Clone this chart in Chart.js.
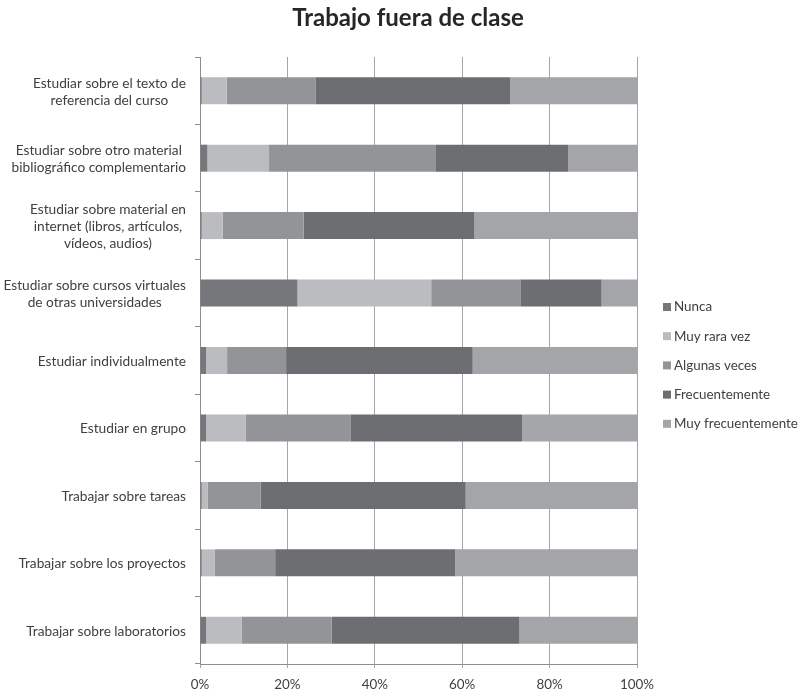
<!DOCTYPE html>
<html>
<head>
<meta charset="utf-8">
<title>Trabajo fuera de clase</title>
<script src="https://cdn.jsdelivr.net/npm/chart.js@4"></script>
<style>
  html, body { margin: 0; padding: 0; background: #fff; }
  #wrap { width: 802px; height: 693px; position: relative; }
</style>
</head>
<body>
<div id="wrap"><canvas id="workChart"></canvas></div>
<script>
// Activity categories (top to bottom)
const activities = [
    ['Estudiar sobre el texto de', 'referencia del curso'],
    ['Estudiar sobre otro material', 'bibliográfico complementario'],
    ['Estudiar sobre material en', 'internet (libros, artículos,', 'vídeos, audios)'],
    ['Estudiar sobre cursos virtuales', 'de otras universidades'],
    ['Estudiar individualmente'],
    ['Estudiar en grupo'],
    ['Trabajar sobre tareas'],
    ['Trabajar sobre los proyectos'],
    ['Trabajar sobre laboratorios']
];

// Percentages for each answer
const nunca = [0.4, 1.7, 0.4, 22.3, 1.4, 1.4, 0.4, 0.4, 1.4];
const muyRaraVez = [5.7, 14.1, 4.8, 30.6, 4.8, 9.0, 1.4, 3.0, 8.1];
const algunasVeces = [20.3, 38.2, 18.5, 20.4, 13.5, 24.0, 12.1, 13.8, 20.6];
const frecuentemente = [44.6, 30.3, 39.1, 18.6, 42.7, 39.3, 46.9, 41.2, 43.0];
const muyFrecuentemente = [29.0, 15.7, 37.2, 8.1, 37.6, 26.3, 39.2, 41.6, 26.9];

const seriesNames = ['Nunca', 'Muy rara vez', 'Algunas veces', 'Frecuentemente', 'Muy frecuentemente'];
const xTicks = [0, 20, 40, 60, 80, 100];

const colors = ['#76777b', '#bbbcbf', '#939497', '#6d6e72', '#a4a5a8'];
const textColor = '#404040';
const fontFamily = 'Lato, "Open Sans", sans-serif';

// Category labels: each block right aligned, its lines centred
const categoryLabels = {
    id: 'categoryLabels',
    afterDraw(chart) {
        const ctx = chart.ctx;
        const yScale = chart.scales.y;
        const right = chart.chartArea.left - 14;
        const lineH = 17;
        ctx.save();
        ctx.font = '13.7px ' + fontFamily;
        ctx.fillStyle = textColor;
        ctx.textAlign = 'center';
        ctx.textBaseline = 'middle';
        activities.forEach((lines, i) => {
            const yc = yScale.getPixelForValue(i) + 1;
            const w = Math.max(...lines.map(l => ctx.measureText(l).width));
            const cx = right - w / 2;
            const y0 = yc - (lines.length - 1) * lineH / 2;
            lines.forEach((l, j) => ctx.fillText(l, cx, y0 + j * lineH));
        });
        ctx.restore();
    }
};

// Title and legend drawn beside the plot
const titleAndLegend = {
    id: 'titleAndLegend',
    afterDraw(chart) {
        const ctx = chart.ctx;
        ctx.save();
        ctx.font = 'bold 24px ' + fontFamily;
        ctx.fillStyle = '#262626';
        ctx.textAlign = 'center';
        ctx.textBaseline = 'alphabetic';
        ctx.fillText('Trabajo fuera de clase', 408, 26);

        ctx.font = '13.4px ' + fontFamily;
        ctx.textAlign = 'left';
        ctx.textBaseline = 'middle';
        chart.data.datasets.forEach((ds, i) => {
            const y = 307 + i * 29.2;
            ctx.fillStyle = ds.backgroundColor;
            ctx.fillRect(663, y - 4, 8, 8);
            ctx.fillStyle = textColor;
            ctx.fillText(ds.label, 674, y);
        });
        ctx.restore();
    }
};

const seriesData = [nunca, muyRaraVez, algunasVeces, frecuentemente, muyFrecuentemente];

new Chart(document.getElementById('workChart'), {
    type: 'bar',
    data: {
        labels: activities.map(l => l.join(' ')),
        datasets: seriesNames.map((name, i) => ({
            label: name,
            data: seriesData[i],
            backgroundColor: colors[i],
            borderWidth: 0,
            barPercentage: 0.4,
            categoryPercentage: 1
        }))
    },
    options: {
        indexAxis: 'y',
        responsive: true,
        maintainAspectRatio: false,
        animation: false,
        layout: { padding: { top: 57, right: 165, left: 0, bottom: 0 } },
        plugins: {
            legend: { display: false },
            title: { display: false },
            tooltip: { enabled: false }
        },
        scales: {
            x: {
                stacked: true,
                min: 0,
                max: 100,
                afterFit(scale) { scale.height = 29; },
                afterBuildTicks(scale) { scale.ticks = xTicks.map(v => ({ value: v })); },
                ticks: {
                    callback: v => v + '%',
                    color: textColor,
                    font: { family: fontFamily, size: 13.4 },
                    padding: 9,
                    maxRotation: 0
                },
                grid: {
                    color: '#a6a6a8',
                    lineWidth: 1,
                    tickLength: 4
                },
                border: { color: '#8e8e90', width: 1 }
            },
            y: {
                stacked: true,
                afterFit(scale) { scale.width = 200; },
                ticks: { display: false },
                grid: {
                    offset: true,
                    drawOnChartArea: false,
                    color: '#8e8e90',
                    tickLength: 5
                },
                border: { color: '#8e8e90', width: 1 }
            }
        }
    },
    plugins: [categoryLabels, titleAndLegend]
});
</script>
</body>
</html>
